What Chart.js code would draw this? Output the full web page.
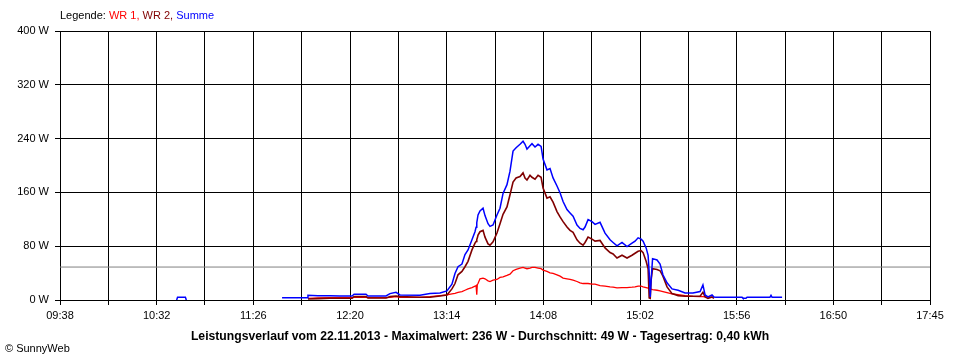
<!DOCTYPE html>
<html>
<head>
<meta charset="utf-8">
<script src="https://cdn.jsdelivr.net/npm/chart.js@4.4.1/dist/chart.umd.min.js"></script>
<style>
html,body{margin:0;padding:0;background:#fff;}
#wrap{position:relative;width:960px;height:360px;overflow:hidden;}
canvas{position:absolute;left:0;top:0;}
.legend{position:absolute;left:60px;top:9px;font:11px "Liberation Sans",Arial,sans-serif;color:#000;white-space:nowrap;}
.copy{position:absolute;left:5px;top:342px;font:11px "Liberation Sans",Arial,sans-serif;color:#000;white-space:nowrap;}
</style>
</head>
<body>
<div id="wrap">
<canvas id="c" width="960" height="360"></canvas>
<div class="legend">Legende: <span style="color:#ff0000">WR 1,</span> <span style="color:#800000">WR 2,</span> <span style="color:#0000ff">Summe</span></div>
<div class="copy">© SunnyWeb</div>
</div>
<script>
// x axis: minutes after midnight (09:38 .. 17:45)
const axisStartMinutes = 578;
const axisEndMinutes = 1065;
const timeLabels = ['09:38','10:32','11:26','12:20','13:14','14:08','15:02','15:56','16:50','17:45'];
const yTickStep = 80;
const yMax = 400;
const averageWatts = 49;
const titleText = 'Leistungsverlauf vom 22.11.2013 - Maximalwert: 236 W - Durchschnitt: 49 W - Tagesertrag: 0,40 kWh';

// sample times (minutes after midnight)
const sampleMinutes = [
 643.3, 643.8, 648.2, 648.7, 675, 702.3, 716.3, 716.8, 722.4, 729.1,
 734.7, 741.5, 742.6, 749.3, 750.4, 760.5, 762.7, 766.1, 768.3, 779.5,
 785.1, 790.7, 794.6, 797.4, 799.1, 800.8, 803.0, 804.7, 806.4, 808.6,
 810.3, 810.9, 811.3, 811.6, 812.0, 813.1, 814.8, 815.9, 817.6, 818.7,
 820.4, 822.6, 824.3, 826.0, 828.2, 829.9, 831.6, 833.3, 835.5, 837.2,
 838.3, 839.4, 841.1, 842.2, 843.9, 845.6, 847.3, 848.4, 850.6, 852.3,
 854.0, 856.2, 857.9, 859.6, 861.8, 863.5, 865.2, 867.4, 869.1, 870.8,
 871.9, 873.6, 875.8, 877.5, 880.3, 883.1, 885.9, 887.6, 889.8, 892.6,
 895.4, 898.2, 899.9, 901.6, 903.3, 904.4, 906.1, 907.2, 907.8, 908.4,
 908.9, 909.7, 912.2, 913.9, 915.5, 917.8, 920.6, 924.0, 927.9, 932.3,
 936.3, 937.9, 939.1, 940.7, 943.0, 944.1, 945.2, 959.8, 960.3, 962.0,
 962.6, 975.4, 976.0, 976.6, 982.2
];

const summeWatts = [
 0, 4, 4, 0, null, 3.5, 3.5, 7, 6.5, 6.5,
 6, 6, 8.5, 8.5, 6, 6, 9.5, 11.5, 7.5, 7,
 9.5, 10.5, 13.5, 23.5, 39.5, 49.5, 53.5, 67.5, 74.5, 89.5,
 101.5, 108, 115, 120, 126.5, 132.5, 136.5, 125.5, 113.5, 109.5,
 111.5, 126.5, 136.5, 158.5, 171.5, 191.5, 221.5, 226.5, 231.5, 236,
 231.5, 224.5, 229.5, 232.5, 227.5, 231.5, 228.5, 209.5, 193.5, 195.5,
 181.5, 169.5, 159.5, 146.5, 134.5, 129.5, 124.5, 111.5, 106.5, 104.5,
 108.5, 119.5, 116.5, 112.5, 115.5, 99.5, 89.5, 85.5, 80.5, 85.5,
 79.5, 84.5, 87.5, 92.5, 90.5, 87.5, 77.5, 66.5, 41.5, 4.5,
 30, 61.5, 59.5, 53.5, 37.5, 25.5, 16.5, 14.5, 10.5, 10.5,
 12.5, 22.5, 7.5, 4.5, 7.5, 4.5, 4, 4, 2.5, 2.5,
 4, 4, 7, 4, 4
];

const wr2Watts = [
 null, null, null, null, null, null, null, 1.5, 2, 2.5,
 2.5, 2.5, 5, 5, 3, 3, 5, 6, 5, 4,
 4, 6, 7.5, 16.5, 24.5, 37.5, 42.5, 49.5, 57.5, 74.5,
 84.5, 87, 90, 92, 96.5, 101.5, 103.5, 93.5, 83.5, 81.5,
 86.5, 99.5, 113.5, 127.5, 138.5, 156.5, 175.5, 181.5, 183.5, 189,
 181.5, 178.5, 185.5, 182.5, 179.5, 185.5, 182.5, 166.5, 151.5, 153.5,
 145.5, 131.5, 123.5, 116.5, 108.5, 103.5, 100.5, 89.5, 84.5, 81.5,
 85.5, 93.5, 90.5, 87.5, 88.5, 77.5, 70.5, 68.5, 62.5, 66.5,
 62.5, 66.5, 69.5, 72.5, 73.5, 70.5, 57.5, 46.5, 3, 2.5,
 30, 46.5, 45.5, 43.5, 35.5, 19.5, 9.5, 6.5, 5.5, 5.5,
 5.5, 11.5, 4.5, 2.5, 4.5, 2.5, null, null, null, null,
 null, null, null, null, null
];

const wr1Watts = [
 null, null, null, null, null, null, null, 2.5, 3, 3.5,
 3.5, 3.5, 4, 4, 3.5, 3.5, 4, 5, 4, 4,
 5, 6.5, 7.5, 9, 10, 11.5, 12.5, 14.5, 16.5, 18.5,
 20.5, 21.5, 8, 23, 24.5, 31.5, 32.5, 31.5, 28.5, 27.5,
 29.5, 30.5, 33.5, 34.5, 36.5, 38.5, 43.5, 45.5, 47.5, 48.5,
 47.5, 46.5, 47.5, 48.5, 48.5, 47.5, 46.5, 44.5, 42.5, 40.5,
 39.5, 37.5, 35.5, 32.5, 31.5, 30.5, 29.5, 27.5, 25.5, 24.5,
 24.5, 24.5, 23.5, 23.5, 21.5, 20.5, 19.5, 19, 18, 18.5,
 18.5, 19, 19.5, 20.5, 20.5, 19.5, 18.5, 17.5, 17, 16.5,
 16, 15.5, 14.5, 13.5, 12.5, 11, 9, 8, 6.5, 5.5,
 5, 5, 4.5, 4.5, 4, 4, null, null, null, null,
 null, null, null, null, null
];

function toPoints(values) {
  return sampleMinutes.map((t, i) => ({ x: t, y: values[i] }));
}

const gridCount = (timeLabels.length - 1) * 2;
const gridStep = (axisEndMinutes - axisStartMinutes) / gridCount;

const lineBase = { pointRadius: 0, tension: 0, spanGaps: false, fill: false };

new Chart(document.getElementById('c').getContext('2d'), {
  type: 'line',
  data: {
    datasets: [
      Object.assign({ label: 'Summe', data: toPoints(summeWatts), borderColor: '#0000ff', borderWidth: 1.5 }, lineBase),
      Object.assign({ label: 'WR 2', data: toPoints(wr2Watts), borderColor: '#800000', borderWidth: 1.6 }, lineBase),
      Object.assign({ label: 'WR 1', data: toPoints(wr1Watts), borderColor: '#ff0000', borderWidth: 1.3 }, lineBase),
      Object.assign({ label: 'Durchschnitt', data: [{x: axisStartMinutes, y: averageWatts}, {x: axisEndMinutes, y: averageWatts}], borderColor: '#808080', borderWidth: 1 }, lineBase)
    ]
  },
  options: {
    responsive: false,
    animation: false,
    events: [],
    layout: { padding: { left: 0, right: 0, top: 31, bottom: 0 } },
    plugins: {
      legend: { display: false },
      tooltip: { enabled: false },
      title: {
        display: true,
        position: 'bottom',
        text: titleText,
        color: '#000',
        font: { family: '"Liberation Sans", Arial, sans-serif', size: 12.2, weight: 'bold' },
        padding: { top: 3.5, bottom: 15.86 }
      }
    },
    scales: {
      x: {
        type: 'linear',
        min: axisStartMinutes,
        max: axisEndMinutes,
        afterBuildTicks: (scale) => {
          const t = [];
          for (let i = 0; i <= gridCount; i++) t.push({ value: axisStartMinutes + i * gridStep });
          scale.ticks = t;
        },
        afterFit: (scale) => { scale.height = 26; },
        ticks: {
          autoSkip: false,
          maxRotation: 0,
          minRotation: 0,
          padding: 4,
          color: '#000',
          font: { family: '"Liberation Sans", Arial, sans-serif', size: 11 },
          callback: (value, index) => (index % 2 === 0 ? timeLabels[index / 2] : '')
        },
        grid: { color: '#000', lineWidth: 1, tickLength: 5, tickColor: '#000' },
        border: { color: '#000', width: 1 }
      },
      y: {
        min: 0,
        max: yMax,
        afterFit: (scale) => { scale.width = 60; },
        ticks: {
          stepSize: yTickStep,
          padding: 6,
          color: '#000',
          font: { family: '"Liberation Sans", Arial, sans-serif', size: 11 },
          callback: (v) => v + ' W'
        },
        grid: { color: '#000', lineWidth: 1, tickLength: 5, tickColor: '#000' },
        border: { color: '#000', width: 1 }
      },
      yRightSpacer: {
        position: 'right',
        min: 0,
        max: yMax,
        afterFit: (scale) => { scale.width = 30; },
        ticks: { display: false },
        grid: { display: false, drawTicks: false },
        border: { display: false }
      }
    }
  }
});
</script>
</body>
</html>
